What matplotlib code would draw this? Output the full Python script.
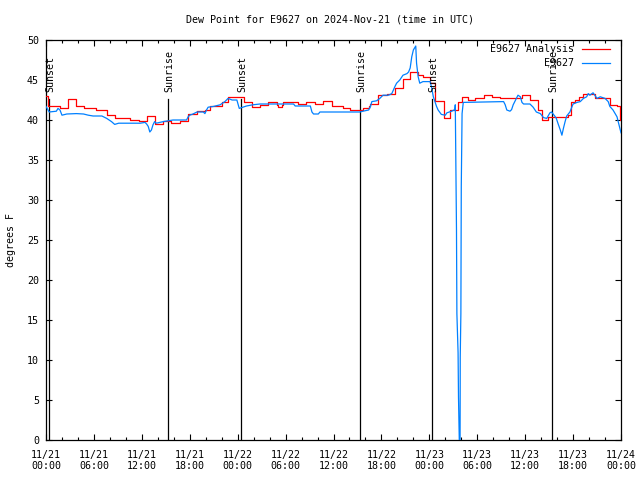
import matplotlib
matplotlib.use("Agg")
import matplotlib.pyplot as plt
from matplotlib.lines import Line2D

# ---- data (hours since 2024-11-21 00:00 UTC) ----
red_t = [0.0, 0.3, 1.75, 2.8, 3.7, 4.7, 6.3, 7.6, 8.6, 9.7, 10.5, 11.6, 12.6, 13.6,
         14.7, 15.7, 16.8, 17.8, 18.9, 19.9, 20.5, 22.0, 22.8, 24.8, 25.8, 26.8,
         27.8, 28.9, 29.1, 29.5, 29.7, 31.6, 32.6, 33.7, 34.7, 35.8, 37.2, 38.1,
         39.7, 40.4, 40.6, 41.6, 42.7, 43.7, 44.7, 45.6, 46.6, 47.2, 48.1, 48.7,
         49.8, 50.6, 51.6, 52.1, 52.9, 53.7, 54.8, 55.8, 56.8, 59.6, 60.6, 61.6,
         62.1, 62.9, 65.4, 65.8, 66.2, 66.7, 67.3, 68.7, 70.6, 71.5, 71.9, 72.0]
red_v = [43.0, 41.7, 41.45, 42.6, 41.75, 41.45, 41.25, 40.6, 40.2, 40.3, 40.0, 39.9,
         40.5, 39.5, 39.9, 39.6, 39.9, 40.8, 41.1, 41.3, 41.75, 42.2, 42.9, 42.3,
         41.6, 41.9, 42.2, 41.9, 41.6, 41.9, 42.2, 42.0, 42.2, 42.0, 42.4, 41.75,
         41.45, 41.2, 41.45, 41.7, 42.0, 43.1, 43.25, 44.0, 45.1, 46.0, 45.6, 45.4,
         44.6, 42.4, 40.3, 41.25, 42.3, 42.9, 42.5, 42.7, 43.1, 42.9, 42.7, 43.1,
         42.5, 41.25, 40.0, 40.4, 40.6, 42.3, 42.5, 42.9, 43.3, 42.7, 41.9, 41.7,
         40.0, 40.0]

blue_t = [0.0, 0.4, 1.3, 1.5, 1.75, 2.0, 2.6, 3.8, 4.7, 5.3, 5.9, 7.0, 7.6, 8.2, 8.6,
          9.1, 11.8, 12.4, 12.6, 12.8, 13.0, 13.2, 13.4, 13.6, 13.8, 14.7, 15.9, 17.6,
          17.8, 18.0, 18.4, 18.9, 19.7, 19.9, 20.1, 20.3, 21.0, 21.8, 22.4, 22.8, 23.3,
          23.9, 24.2, 25.1, 25.9, 26.8, 31.0, 31.2, 33.1, 33.3, 33.5, 34.1, 34.3, 39.3,
          39.7, 40.4, 40.6, 40.8, 41.4, 41.8, 42.2, 42.9, 43.3, 43.5, 43.7, 43.9, 44.3,
          44.7, 45.2, 45.4, 45.6, 45.8, 46.0, 46.3, 46.4, 46.6, 46.8, 47.2, 47.7, 48.1,
          48.3, 48.5, 48.9, 49.1, 49.5, 50.0, 50.2, 50.8, 51.2, 51.25, 51.3, 51.4,
          51.45, 51.6, 51.65, 51.75, 51.85, 51.87, 51.95, 52.0, 52.1, 52.25, 57.3,
          57.5, 57.7, 58.1, 58.3, 58.5, 58.9, 59.1, 59.4, 59.6, 59.8, 60.6, 61.0, 61.4,
          61.9, 62.3, 62.7, 63.1, 63.3, 63.5, 63.7, 63.9, 64.1, 64.4, 64.6, 64.8, 65.0,
          65.2, 65.6, 66.0, 66.5, 66.9, 67.3, 67.7, 67.9, 68.1, 68.5, 69.0, 69.4, 70.0,
          70.4, 70.6, 71.0, 71.5, 71.7, 71.9, 72.0]
blue_v = [41.7, 41.0, 41.1, 41.45, 41.25, 40.6, 40.75, 40.8, 40.75, 40.6, 40.5, 40.5,
          40.2, 39.8, 39.45, 39.6, 39.6, 39.7, 39.5, 39.2, 38.5, 38.75, 39.4, 39.8,
          39.6, 39.8, 40.0, 40.0, 40.4, 40.6, 40.75, 41.0, 41.0, 40.8, 41.25, 41.6,
          41.7, 41.9, 42.3, 42.7, 42.5, 42.5, 41.45, 41.75, 41.9, 42.0, 42.0, 41.75,
          41.75, 41.0, 40.75, 40.75, 41.0, 41.0, 41.1, 41.25, 41.6, 42.3, 42.4, 42.7,
          43.1, 43.1, 43.3, 43.75, 44.2, 44.6, 45.0, 45.6, 45.8, 46.0, 46.5, 47.9,
          48.75, 49.25, 47.1, 45.4, 44.6, 44.8, 44.8, 44.8, 44.0, 42.9, 41.7, 41.25,
          40.7, 40.6, 40.9, 41.1, 41.3, 41.9, 36.7, 26.3, 15.8, 10.9, 5.4, 0.0, 0.0,
          10.4, 15.8, 31.7, 40.8, 42.2, 42.3, 41.9, 41.25, 41.1, 41.3, 41.9, 42.7,
          43.1, 42.9, 42.2, 42.0, 42.0, 41.6, 41.0, 40.8, 40.3, 40.2, 40.9, 41.0,
          40.75, 40.5, 40.2, 39.6, 38.75, 38.1, 39.0, 39.8, 40.5, 41.0, 42.0, 42.2,
          42.3, 42.7, 42.9, 43.3, 43.1, 43.4, 42.7, 42.9, 42.7, 42.3, 41.7, 41.25,
          40.4, 39.6, 38.75, 38.4]

sun_t = [0.42, 15.28, 24.45, 39.32, 48.38, 63.42]
sun_labels = ["Sunset", "Sunrise", "Sunset", "Sunrise", "Sunset", "Sunrise"]
sun_top = 42.6

xtick_pos = [0, 6, 12, 18, 24, 30, 36, 42, 48, 54, 60, 66, 72]
xtick_labels = ["11/21\n00:00", "11/21\n06:00", "11/21\n12:00", "11/21\n18:00",
                "11/22\n00:00", "11/22\n06:00", "11/22\n12:00", "11/22\n18:00",
                "11/23\n00:00", "11/23\n06:00", "11/23\n12:00", "11/23\n18:00",
                "11/24\n00:00"]
series_names = ["E9627 Analysis", "E9627"]

# ---- plot ----
plt.rcParams['font.family'] = ['DejaVu Sans Mono']
FS = 7.2
fig = plt.figure(figsize=(6.4, 4.8), dpi=100)
ax = fig.add_axes([46/640, 40/480, 575/640, 400/480])

red_c = '#ff0000'
blue_c = '#0080ff'
ax.plot(red_t, red_v, color=red_c, lw=0.9, drawstyle='steps-post', zorder=3)
ax.plot(blue_t, blue_v, color=blue_c, lw=0.9, zorder=4)

for t, lab in zip(sun_t, sun_labels):
    ax.plot([t, t], [0, sun_top], color='black', lw=0.9, zorder=2)
    ax.text(t + 0.15, sun_top + 0.9, lab, rotation=90, ha='center', va='bottom',
            fontsize=FS, zorder=5)

ax.set_xlim(0, 72)
ax.set_ylim(0, 50)
ax.set_xticks(xtick_pos)
ax.set_xticklabels(xtick_labels, fontsize=FS, linespacing=1.15)
ax.set_xticks(range(0, 73, 2), minor=True)
ax.set_yticks(range(0, 51, 5))
ax.set_yticklabels([str(v) for v in range(0, 51, 5)], fontsize=FS)
ax.tick_params(which='both', direction='in', top=True, right=True, width=0.8)
ax.tick_params(which='major', length=4.5)
ax.tick_params(which='minor', length=2.2)
ax.tick_params(axis='x', pad=7)
ax.tick_params(axis='y', pad=5)
for s in ax.spines.values():
    s.set_linewidth(0.9)

# legend (gnuplot style, right-aligned text)
for i, (name, c) in enumerate(zip(series_names, [red_c, blue_c])):
    yy = 0.977 - i * 0.0345
    ax.text(0.918, yy, name, transform=ax.transAxes, ha='right', va='center',
            fontsize=FS, zorder=6)
    ax.add_line(Line2D([0.932, 0.981], [yy, yy], transform=ax.transAxes,
                       color=c, lw=0.9, zorder=6))

fig.text(0.516, 1 - 19/480, "Dew Point for E9627 on 2024-Nov-21 (time in UTC)",
         ha='center', va='center', fontsize=FS)
fig.text(11/640, 0.5, "degrees F", rotation=90, ha='center', va='center', fontsize=FS)

fig.savefig("out.png", dpi=100)
